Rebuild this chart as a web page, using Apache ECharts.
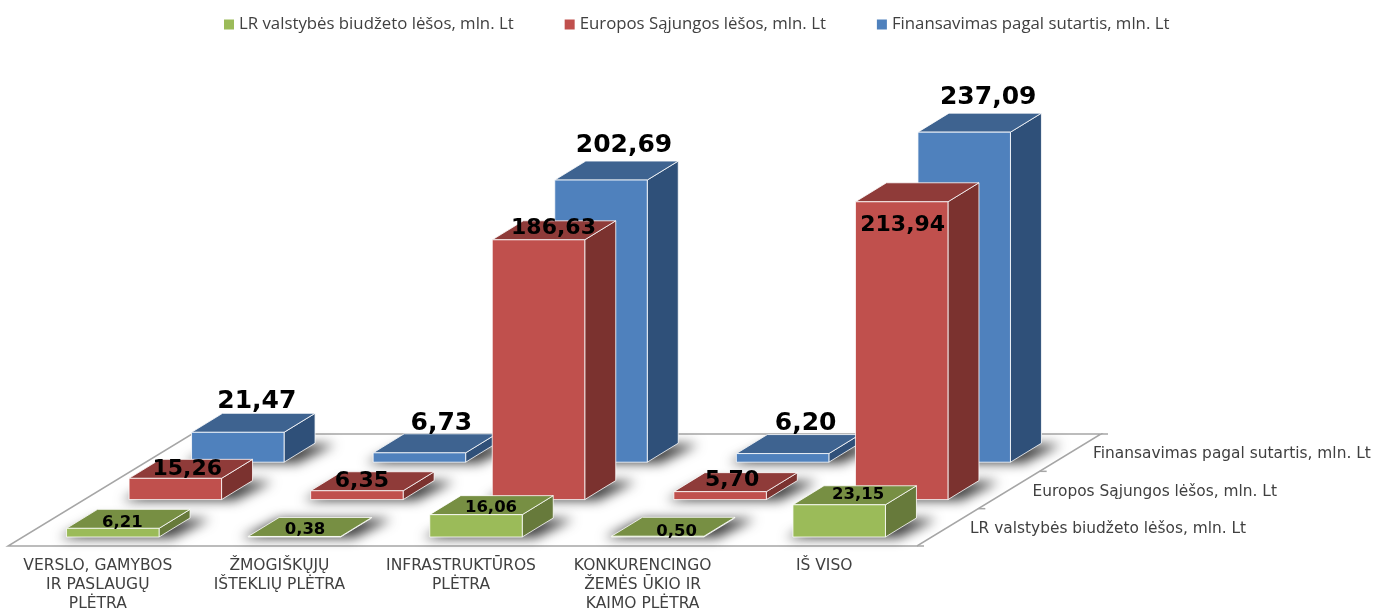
<!DOCTYPE html>
<html>
<head>
<meta charset="utf-8">
<style>html,body{margin:0;padding:0;background:#fff}#chart{width:1386px;height:611px}</style>
<script src="https://cdn.jsdelivr.net/npm/echarts@6/dist/echarts.min.js"></script>
</head>
<body>
<div id="chart"></div>
<script>
var categories = ['VERSLO, GAMYBOS\nIR PASLAUGŲ\nPLĖTRA', 'ŽMOGIŠKŲJŲ\nIŠTEKLIŲ PLĖTRA', 'INFRASTRUKTŪROS\nPLĖTRA', 'KONKURENCINGO\nŽEMĖS ŪKIO IR\nKAIMO PLĖTRA', 'IŠ VISO'];
var nameBudget = 'LR valstybės biudžeto lėšos, mln. Lt';
var nameEu = 'Europos Sąjungos lėšos, mln. Lt';
var nameContract = 'Finansavimas pagal sutartis, mln. Lt';
var budgetValues = [6.21, 0.38, 16.06, 0.50, 23.15];
var euValues = [15.26, 6.35, 186.63, 5.70, 213.94];
var contractValues = [21.47, 6.73, 202.69, 6.20, 237.09];

// pseudo 3d look
var rowDx = 62.5, rowDy = 37.4;
var barW = 92.5, topDx = 31, topDy = 19;
var wideFont = '"DejaVu Sans", sans-serif';
var legendFont = '"Open Sans", sans-serif';

// label nudges from the bar's front top middle
var budgetNudge = [[9.5, -6], [10.6, -7], [15, -6.5], [19, -5], [19, -10.5]];
var euNudge = [[12, -9], [5, -9], [15, -12], [12, -11.5], [1, 23]];
var contractNudge = [[19, -31], [22, -29], [23, -35], [23, -30], [24, -35]];

function fmt(v) {
  return v.toFixed(2).replace('.', ',');
}

function poly(points, fill) {
  return {
    type: 'polygon',
    shape: { points: points },
    style: { fill: fill, stroke: 'rgba(255,255,255,0.8)', lineWidth: 1 }
  };
}

// only the blurred copy lands on the floor, the shape itself stays off the canvas
function shadow(x0, x1, y0) {
  var away = 3000;
  return {
    type: 'polygon',
    shape: {
      points: [
        [x0 - 7 - away, y0 + 1],
        [x1 + 13 - away, y0 + 1],
        [x1 + topDx + 20 - away, y0 - topDy + 1],
        [x0 + topDx - away, y0 - topDy + 1]
      ]
    },
    style: { fill: '#000', shadowBlur: 12, shadowColor: 'rgba(0,0,0,0.75)', shadowOffsetX: away, shadowOffsetY: 0 }
  };
}

function barSeries(name, values, row, colors, labelSize, nudge, z) {
  return {
    type: 'custom',
    name: name,
    z: z,
    silent: true,
    itemStyle: { color: colors.front },
    data: values.map(function (v, i) { return [i, v]; }),
    renderItem: function (params, api) {
      var i = api.value(0), v = api.value(1);
      var base = api.coord([i, 0]);
      var top = api.coord([i, v]);
      var x0 = base[0] - barW / 2 + row * rowDx;
      var x1 = x0 + barW;
      var y0 = base[1] - row * rowDy;
      var y1 = top[1] - row * rowDy;
      return {
        type: 'group',
        children: [
          shadow(x0, x1, y0),
          poly([[x1, y0], [x1 + topDx, y0 - topDy], [x1 + topDx, y1 - topDy], [x1, y1]], colors.side),
          poly([[x0, y1], [x1, y1], [x1 + topDx, y1 - topDy], [x0 + topDx, y1 - topDy]], colors.top),
          poly([[x0, y0], [x1, y0], [x1, y1], [x0, y1]], colors.front),
          {
            type: 'text',
            z2: 10,
            style: {
              text: fmt(v),
              x: (x0 + x1) / 2 + nudge[i][0],
              y: y1 + nudge[i][1],
              fill: '#000',
              font: 'bold ' + labelSize + 'px "DejaVu Sans", sans-serif',
              align: 'center',
              verticalAlign: 'middle'
            }
          }
        ]
      };
    }
  };
}

// floor with the depth axis and its names
var floorSeries = {
  type: 'custom',
  z: 1,
  silent: true,
  data: [[0, 0]],
  renderItem: function (params, api) {
    var band = api.size([1, 0])[0];
    var first = api.coord([0, 0]);
    var last = api.coord([categories.length - 1, 0]);
    var fy = first[1] + 9;
    var fl = first[0] - band / 2 - 14;
    var fr = last[0] + band / 2 - 13;
    var depthX = 184, depthY = 112;
    var line = { stroke: '#a6a6a6', lineWidth: 1.5 };
    var kids = [{
      type: 'polygon',
      shape: { points: [[fl, fy], [fr, fy], [fr + depthX, fy - depthY], [fl + depthX, fy - depthY]] },
      style: { fill: '#fff', stroke: '#a6a6a6', lineWidth: 1.5 }
    }];
    [0, 1, 2, 3].forEach(function (k) {
      var tx = fr + k * depthX / 3, ty = fy - k * depthY / 3;
      kids.push({ type: 'line', shape: { x1: tx, y1: ty, x2: tx + 7, y2: ty }, style: line });
    });
    [nameBudget, nameEu, nameContract].forEach(function (n, k) {
      kids.push({
        type: 'text',
        style: {
          text: n,
          x: last[0] + band / 2 + 40 + k * rowDx - (k == 2 ? 2 : 0),
          y: first[1] - 8 - k * rowDy,
          fill: '#404040',
          font: '15.4px ' + wideFont,
          align: 'left',
          verticalAlign: 'middle'
        }
      });
    });
    return { type: 'group', children: kids };
  }
};

var chart = echarts.init(document.getElementById('chart'));
chart.setOption({
  backgroundColor: '#fff',
  animation: false,
  legend: {
    data: [nameBudget, nameEu, nameContract],
    left: 219,
    top: 11,
    itemWidth: 10,
    itemHeight: 10,
    itemGap: 51,
    icon: 'rect',
    textStyle: { fontFamily: legendFont, fontSize: 16.8, color: '#404040' }
  },
  grid: [
    { left: 22, top: 189, width: 908, height: 348, outerBoundsMode: 'none' },
    { left: 7, top: 189, width: 908, height: 348, outerBoundsMode: 'none' }
  ],
  xAxis: [
    { type: 'category', data: categories, show: false, gridIndex: 0 },
    {
      type: 'category',
      data: categories,
      gridIndex: 1,
      axisLine: { show: false },
      axisTick: { show: false },
      axisLabel: { interval: 0, margin: 20, fontFamily: wideFont, fontSize: 15.5, lineHeight: 18.7, color: '#404040' }
    }
  ],
  yAxis: [
    { type: 'value', min: 0, max: 250, show: false, gridIndex: 0 },
    { type: 'value', min: 0, max: 250, show: false, gridIndex: 1 }
  ],
  series: [
    floorSeries,
    barSeries(nameBudget, budgetValues, 0, { front: '#9bbb59', top: '#778f43', side: '#677a3b' }, 16.5, budgetNudge, 5),
    barSeries(nameEu, euValues, 1, { front: '#c0504d', top: '#8f3b39', side: '#7b322f' }, 22, euNudge, 4),
    barSeries(nameContract, contractValues, 2, { front: '#4f81bd', top: '#3e6390', side: '#2f5079' }, 25, contractNudge, 3)
  ]
});
</script>
</body>
</html>
